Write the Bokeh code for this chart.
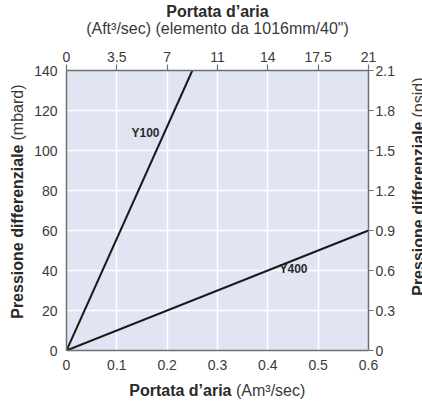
import math
from bokeh.plotting import figure
from bokeh.models import (LinearAxis, Range1d, FixedTicker, Label, Grid)
from bokeh.embed import file_html
from bokeh.resources import INLINE

# ---- data ----
y100_flow = [0.0, 0.25]      # Am3/sec
y100_dp = [0.0, 140.0]       # mbard
y400_flow = [0.0, 0.6]
y400_dp = [0.0, 60.0]
series_names = ["Y100", "Y400"]

x_ticks = [0, 0.1, 0.2, 0.3, 0.4, 0.5, 0.6]
y_ticks = [0, 20, 40, 60, 80, 100, 120, 140]
top_ticks = [0, 3.5, 7, 10.5, 14, 17.5, 21]
top_labels = ["0", "3.5", "7", "11", "14", "17.5", "21"]
right_ticks = [0, 0.3, 0.6, 0.9, 1.2, 1.5, 1.8, 2.1]
right_labels = ["0", "0.3", "0.6", "0.9", "1.2", "1.5", "1.8", "2.1"]

FONT = "Liberation Sans"
AXIS_COL = "#707070"
TXT = "#3a3a3a"

p = figure(width=422, height=406, output_backend="svg", toolbar_location=None,
           x_range=Range1d(0, 0.6), y_range=Range1d(0, 140),
           min_border_left=66, min_border_right=54, min_border_top=70, min_border_bottom=56,
           frame_width=302, frame_height=280,
           background_fill_color="#e1e5f3", border_fill_color="white",
           x_axis_location=None, y_axis_location=None)
p.outline_line_color = None

p.extra_x_ranges = {"aft": Range1d(0, 21)}
p.extra_y_ranges = {"psid": Range1d(0, 2.1)}

def style(ax, tick_out, standoff):
    ax.axis_line_color = AXIS_COL
    ax.axis_line_width = 1.5
    ax.major_tick_line_color = AXIS_COL
    ax.major_tick_line_width = 1.2
    ax.major_tick_out = tick_out
    ax.major_tick_in = 0
    ax.minor_tick_line_color = None
    ax.major_label_text_font = FONT
    ax.major_label_text_font_size = "14px"
    ax.major_label_text_color = TXT
    ax.major_label_standoff = standoff

bottom = LinearAxis(ticker=FixedTicker(ticks=x_ticks))
style(bottom, 0, 9)
bottom.major_label_overrides = {t: ("0" if t == 0 else str(t)) for t in x_ticks}
p.add_layout(bottom, "below")

left = LinearAxis(ticker=FixedTicker(ticks=y_ticks))
style(left, 0, 9)
p.add_layout(left, "left")

top = LinearAxis(x_range_name="aft", ticker=FixedTicker(ticks=top_ticks))
style(top, 6, 3)
top.major_label_overrides = dict(zip(top_ticks, top_labels))
p.add_layout(top, "above")

right = LinearAxis(y_range_name="psid", ticker=FixedTicker(ticks=right_ticks))
style(right, 5, 2)
right.major_label_overrides = dict(zip(right_ticks, right_labels))
p.add_layout(right, "right")

p.xgrid.visible = False
p.ygrid.visible = False
p.add_layout(Grid(dimension=0, ticker=FixedTicker(ticks=x_ticks),
                  grid_line_color="white", grid_line_width=1.5))
p.add_layout(Grid(dimension=1, ticker=FixedTicker(ticks=y_ticks),
                  grid_line_color="white", grid_line_width=1.5))

p.line(y100_flow, y100_dp, line_color="#1a1a1a", line_width=2)
p.line(y400_flow, y400_dp, line_color="#1a1a1a", line_width=2)

def mk(text, x, y, xo=0, yo=0, size="16px", bold=False, align="center",
       baseline="alphabetic", angle=0.0):
    return Label(x=x, y=y, x_offset=xo, y_offset=yo, text=text,
                 text_font=FONT, text_font_size=size,
                 text_font_style="bold" if bold else "normal",
                 text_color=TXT if not bold else "#2a2a2a",
                 text_align=align, text_baseline=baseline, angle=angle)

# series labels (inside the frame)
p.add_layout(mk(series_names[0], 0.157, 109, size="12px", bold=True, baseline="middle"))
p.add_layout(mk(series_names[1], 0.451, 41, size="12px", bold=True, baseline="middle"))

# texts outside the frame: all put in the bottom panel so that they do not
# push the frame; positions are relative to the frame's (0, 0) corner
outer = [
    mk("Portata d’aria", 0, 0, xo=151, yo=339, bold=True),
    mk("(Aft³/sec) (elemento da 1016mm/40\")", 0, 0, xo=151, yo=322),
    mk("Portata d’aria", 0, 0, xo=165, yo=-40, bold=True, align="right"),
    mk("(Am³/sec)", 0, 0, xo=169.5, yo=-40, align="left"),
    mk("Pressione differenziale", 0, 0, xo=-49, yo=206, bold=True, align="right",
       angle=math.pi / 2),
    mk("(mbard)", 0, 0, xo=-49, yo=210, align="left", angle=math.pi / 2),
    mk("Pressione differenziale", 0, 0, xo=352, yo=229, bold=True, align="right",
       angle=math.pi / 2),
    mk("(psid)", 0, 0, xo=352, yo=233, align="left", angle=math.pi / 2),
]
for lb in outer:
    p.add_layout(lb, "below")

open("out.html", "w").write(file_html(p, INLINE))
